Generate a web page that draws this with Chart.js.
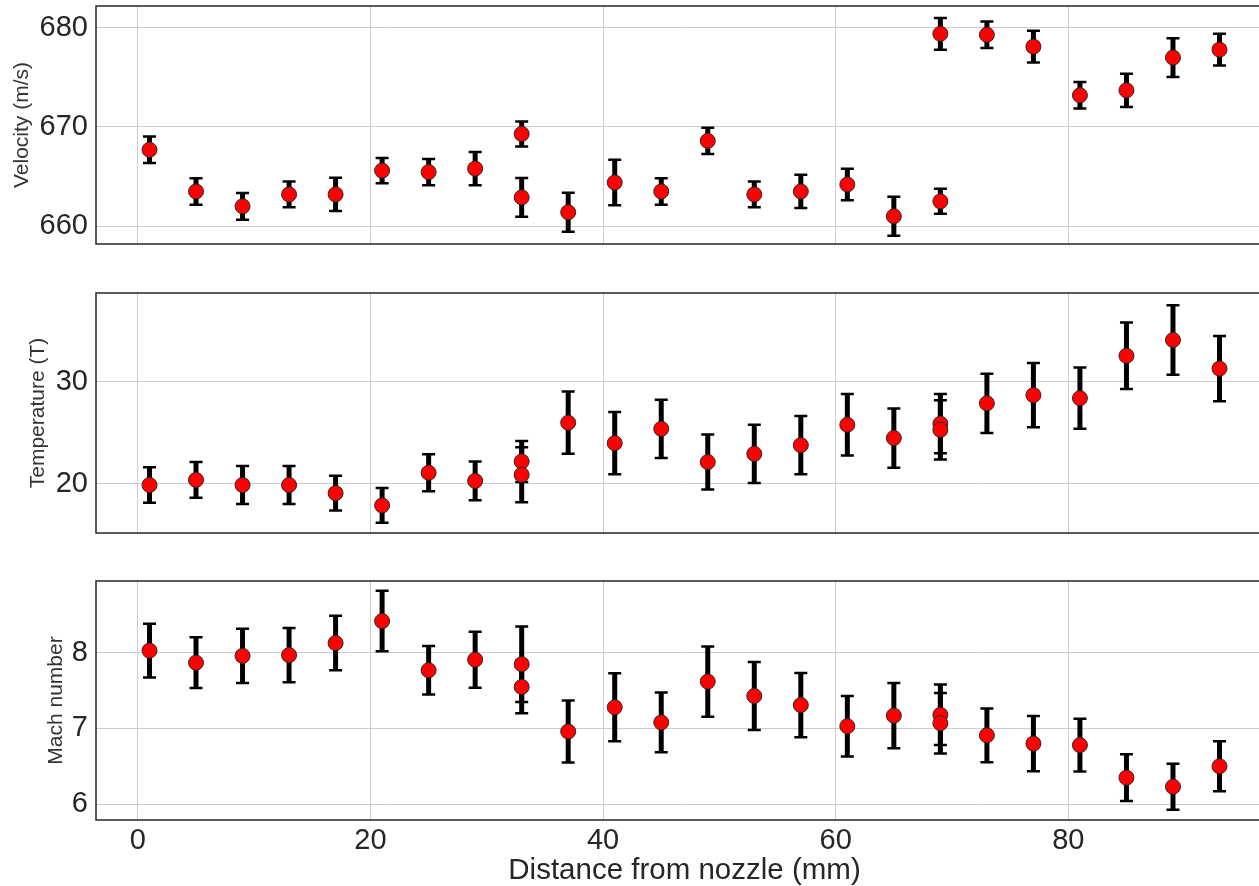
<!DOCTYPE html>
<html>
<head>
<meta charset="utf-8">
<script src="https://cdn.jsdelivr.net/npm/chart.js@4.4.1/dist/chart.umd.min.js"></script>
<style>
  html, body { margin: 0; padding: 0; background: #fff; }
  #figure { position: relative; width: 1259px; height: 886px; overflow: hidden; }
  #figure canvas { position: absolute; left: 0; }
</style>
</head>
<body>
<div id="figure">
  <canvas id="velocity-panel"></canvas>
  <canvas id="temperature-panel"></canvas>
  <canvas id="mach-panel"></canvas>
</div>
<script>
// stations along the jet axis (mm); 33 and 69 were measured twice
const distance = [1, 5, 9, 13, 17, 21, 25, 29, 33, 33, 37, 41, 45, 49, 53, 57, 61, 65, 69, 69, 73, 77, 81, 85, 89, 93];

const velocity    = [667.7, 663.5, 662.0, 663.2, 663.2, 665.6, 665.45, 665.8, 669.3, 662.9, 661.4, 664.4, 663.5,
                     668.6, 663.2, 663.5, 664.2, 661.0, 662.5, 679.4, 679.3, 678.1, 673.2, 673.7, 677.0, 677.8];
const velocityErr = [1.33, 1.33, 1.35, 1.3, 1.67, 1.28, 1.33, 1.68, 1.26, 1.95, 1.97, 2.3, 1.33,
                     1.33, 1.3, 1.68, 1.6, 1.97, 1.26, 1.6, 1.33, 1.6, 1.33, 1.68, 1.95, 1.6];

const temperature    = [19.9, 20.4, 19.9, 19.9, 19.1, 17.9, 21.1, 20.3, 22.2, 20.9, 26.0, 24.0, 25.4,
                        22.15, 22.95, 23.8, 25.8, 24.5, 25.9, 25.3, 27.9, 28.7, 28.4, 32.55, 34.1, 31.3];
const temperatureErr = [1.75, 1.75, 1.85, 1.85, 1.7, 1.7, 1.8, 1.9, 2.0, 2.7, 3.05, 3.05, 2.85,
                        2.7, 2.85, 2.85, 3.0, 2.9, 2.9, 2.9, 2.9, 3.15, 3.0, 3.25, 3.4, 3.2];

const mach    = [8.03, 7.87, 7.96, 7.97, 8.13, 8.42, 7.77, 7.91, 7.85, 7.55, 6.96, 7.28, 7.08,
                 7.62, 7.43, 7.31, 7.03, 7.17, 7.18, 7.07, 6.91, 6.80, 6.78, 6.35, 6.23, 6.50];
const machErr = [0.355, 0.335, 0.36, 0.36, 0.36, 0.4, 0.32, 0.37, 0.5, 0.35, 0.41, 0.45, 0.395,
                 0.465, 0.45, 0.425, 0.4, 0.43, 0.4, 0.4, 0.355, 0.365, 0.35, 0.31, 0.305, 0.33];

const distanceTicks = [0, 20, 40, 60, 80];
const velocityTicks = [660, 670, 680];
const temperatureTicks = [20, 30];
const machTicks = [6, 7, 8];

const FONT = '"Liberation Sans", Arial, Helvetica, sans-serif';

// box around each plot area
const frame = {
  id: 'frame',
  beforeDatasetsDraw(chart) {
    const {ctx, chartArea: a} = chart;
    ctx.save();
    ctx.strokeStyle = '#262626';
    ctx.lineWidth = 1.5;
    ctx.strokeRect(a.left, a.top, a.right - a.left, a.bottom - a.top);
    ctx.restore();
  }
};

// vertical error bars with caps, drawn under the markers
const errorBars = {
  id: 'errorBars',
  beforeDatasetsDraw(chart) {
    const {ctx, scales: {x, y}} = chart;
    ctx.save();
    ctx.strokeStyle = '#000';
    chart.data.datasets[0].data.forEach(p => {
      const px = x.getPixelForValue(p.x);
      const top = y.getPixelForValue(p.y + p.err);
      const bot = y.getPixelForValue(p.y - p.err);
      ctx.lineWidth = 5;
      ctx.beginPath();
      ctx.moveTo(px, top);
      ctx.lineTo(px, bot);
      ctx.stroke();
      ctx.lineWidth = 2.5;
      ctx.beginPath();
      ctx.moveTo(px - 6.5, top); ctx.lineTo(px + 6.5, top);
      ctx.moveTo(px - 6.5, bot); ctx.lineTo(px + 6.5, bot);
      ctx.stroke();
    });
    ctx.restore();
  }
};

function makePanel(id, cfg) {
  const canvas = document.getElementById(id);
  canvas.width = 1275;
  canvas.height = cfg.height;
  canvas.style.top = cfg.top + 'px';

  const points = distance.map((d, i) => ({x: d, y: cfg.values[i], err: cfg.errors[i]}));

  new Chart(canvas, {
    type: 'scatter',
    data: {
      datasets: [{
        data: points,
        pointRadius: 7.5,
        pointHoverRadius: 7.5,
        pointBackgroundColor: '#ff0000',
        pointBorderColor: '#2a2a2a',
        pointBorderWidth: 1,
        clip: false
      }]
    },
    plugins: [frame, errorBars],
    options: {
      responsive: false,
      animation: false,
      events: [],
      layout: { autoPadding: false, padding: { top: cfg.padTop, right: 2, bottom: 0, left: 0 } },
      plugins: { legend: { display: false }, tooltip: { enabled: false } },
      scales: {
        x: {
          type: 'linear',
          min: -3.6,
          max: 97.6,
          afterBuildTicks: s => { s.ticks = distanceTicks.map(v => ({value: v})); },
          afterFit: s => {
            s.height = cfg.xHeight;
            s.paddingLeft = 0;
            s.paddingRight = 0;
          },
          ticks: {
            display: cfg.showX,
            autoSkip: false,
            maxRotation: 0,
            padding: 4,
            color: '#262626',
            font: { family: FONT, size: 29 }
          },
          grid: { color: '#cccccc', lineWidth: 1, drawTicks: false },
          border: { display: false },
          title: {
            display: cfg.showX,
            text: 'Distance from nozzle (mm)',
            color: '#262626',
            font: { family: FONT, size: 29.5, lineHeight: 1 },
            padding: { top: 0, bottom: 0 }
          }
        },
        y: {
          type: 'linear',
          min: cfg.yMin,
          max: cfg.yMax,
          afterBuildTicks: s => { s.ticks = cfg.ticks.map(v => ({value: v})); },
          afterFit: s => {
            s.width = 96;
            s.paddingTop = 0;
            s.paddingBottom = 0;
          },
          ticks: {
            padding: 8,
            color: '#262626',
            font: { family: FONT, size: 29 }
          },
          grid: { color: '#cccccc', lineWidth: 1, drawTicks: false },
          border: { display: false },
          title: {
            display: true,
            text: cfg.title,
            color: '#333333',
            font: { family: FONT, size: 21, lineHeight: 1 },
            padding: { top: cfg.titlePad, bottom: 0 }
          }
        }
      }
    }
  });
}

makePanel('velocity-panel', {
  top: 0, height: 250, padTop: 6, xHeight: 6, showX: false,
  values: velocity, errors: velocityErr,
  yMin: 658.2, yMax: 682.2, ticks: velocityTicks,
  title: 'Velocity (m/s)', titlePad: 11.5
});

makePanel('temperature-panel', {
  top: 250, height: 290, padTop: 43, xHeight: 7, showX: false,
  values: temperature, errors: temperatureErr,
  yMin: 15.2, yMax: 38.7, ticks: temperatureTicks,
  title: 'Temperature (T)', titlePad: 27.5
});

makePanel('mach-panel', {
  top: 540, height: 346, padTop: 41, xHeight: 66, showX: true,
  values: mach, errors: machErr,
  yMin: 5.79, yMax: 8.95, ticks: machTicks,
  title: 'Mach number', titlePad: 45.5
});
</script>
</body>
</html>
